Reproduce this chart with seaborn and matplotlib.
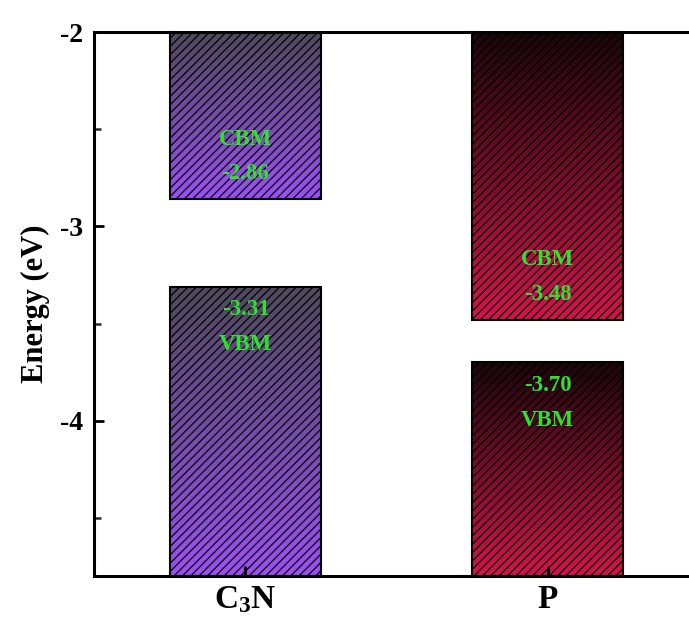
import numpy as np
import pandas as pd
import matplotlib
matplotlib.use("Agg")
import matplotlib.pyplot as plt
import seaborn as sns
from matplotlib.colors import LinearSegmentedColormap
from matplotlib.ticker import MultipleLocator

# dados
materials = ["C3N", "P"]
tick_labels = [r"$\mathbf{C_3N}$", r"$\mathbf{P}$"]
cbm = [-2.86, -3.48]
vbm = [-3.31, -3.70]
y_top = -2.0
y_bottom = -4.8

dark_colors = ["#4e495b", "#1a0609"]
bright_colors = ["#9d4ff5", "#d4144d"]
text_green = "#30e030"

sns.set_theme(style="ticks")
plt.rcParams["font.family"] = ["Liberation Serif", "DejaVu Serif"]
plt.rcParams["font.weight"] = "bold"
plt.rcParams["mathtext.fontset"] = "custom"
plt.rcParams["mathtext.rm"] = "Liberation Serif:bold"
plt.rcParams["mathtext.bf"] = "Liberation Serif:bold"
plt.rcParams["axes.unicode_minus"] = False
plt.rcParams["hatch.linewidth"] = 0.9
plt.rcParams["text.color"] = "black"
plt.rcParams["axes.labelcolor"] = "black"

cb = pd.DataFrame({"material": materials, "height": [y_top - v for v in cbm]})
vb = pd.DataFrame({"material": materials, "height": [v - y_bottom for v in vbm]})

fig = plt.figure(figsize=(6.89, 6.31), dpi=100)
ax = fig.add_axes([0.137, 0.087, 0.877, 0.862])

# barras da banda de conducao (CBM ate o topo) e de valencia (VBM ate a base)
sns.barplot(data=cb, x="material", y="height", bottom=cbm, width=0.5,
            fill=False, color="black", hatch="////", linewidth=1.5,
            errorbar=None, ax=ax)
sns.barplot(data=vb, x="material", y="height", bottom=y_bottom, width=0.5,
            fill=False, color="black", hatch="////", linewidth=1.5,
            errorbar=None, ax=ax)

# preenchimento em degrade recortado em cada barra
grad = np.linspace(0, 1, 256).reshape(-1, 1)
for p in ax.patches:
    x0, y0 = p.get_x(), p.get_y()
    x1, y1 = x0 + p.get_width(), y0 + p.get_height()
    i = int(round(x0 + p.get_width() / 2))
    cmap = LinearSegmentedColormap.from_list("g", [bright_colors[i], dark_colors[i]])
    im = ax.imshow(grad, cmap=cmap, origin="lower", aspect="auto",
                   extent=[x0, x1, min(y0, y1), max(y0, y1)], zorder=0.5)
    im.set_clip_path(p)

for i in range(len(materials)):
    ax.text(i, cbm[i] + 0.31, "CBM", color=text_green, fontsize=16.5,
            fontweight="bold", ha="center", va="center")
    ax.text(i, cbm[i] + 0.13, f"{cbm[i]:.2f}", color=text_green, fontsize=16.5,
            fontweight="bold", ha="center", va="center")
    ax.text(i, vbm[i] - 0.12, f"{vbm[i]:.2f}", color=text_green, fontsize=16.5,
            fontweight="bold", ha="center", va="center")
    ax.text(i, vbm[i] - 0.30, "VBM", color=text_green, fontsize=16.5,
            fontweight="bold", ha="center", va="center")

ax.set_xlim(-0.5, 1.5)
ax.set_ylim(y_bottom, y_top)
ax.yaxis.set_major_locator(MultipleLocator(1))
ax.yaxis.set_minor_locator(MultipleLocator(0.5))
ax.set_xticks(range(len(materials)))
ax.set_xticklabels(tick_labels)
ax.tick_params(axis="y", which="major", direction="in", length=7, width=2,
               labelsize=20, pad=8, colors="black")
ax.tick_params(axis="y", which="minor", direction="in", length=5, width=1.8)
ax.tick_params(axis="x", direction="in", length=7, width=2, labelsize=24,
               pad=6, colors="black")
for s in ax.spines.values():
    s.set_linewidth(2.2)
    s.set_color("black")

ax.set_xlabel("")
ax.set_ylabel("Energy (eV)", fontsize=22, fontweight="bold", labelpad=7)

fig.savefig("out.png", dpi=100)
